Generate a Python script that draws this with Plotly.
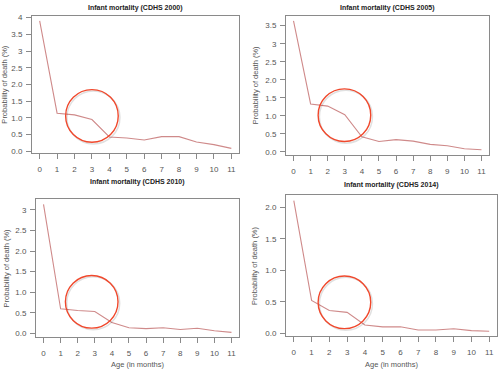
import plotly.graph_objects as go

W, H = 500, 373

months = list(range(12))

titles = ["Infant mortality (CDHS 2000)", "Infant mortality (CDHS 2005)",
          "Infant mortality (CDHS 2010)", "Infant mortality (CDHS 2014)"]

death_2000 = [3.90, 1.14, 1.09, 0.95, 0.43, 0.40, 0.34, 0.44, 0.44, 0.28, 0.20, 0.09]
death_2005 = [3.63, 1.33, 1.27, 1.03, 0.42, 0.29, 0.34, 0.30, 0.21, 0.17, 0.09, 0.06]
death_2010 = [3.13, 0.60, 0.56, 0.535, 0.27, 0.14, 0.12, 0.14, 0.10, 0.13, 0.07, 0.03]
death_2014 = [2.11, 0.52, 0.36, 0.33, 0.13, 0.10, 0.10, 0.05, 0.05, 0.07, 0.04, 0.03]

ytick_vals_2000 = [0, 0.5, 1, 1.5, 2, 2.5, 3, 3.5, 4]
ytick_text_2000 = ["0.0", "0.5", "1.0", "1.5", "2.0", "2.5", "3", "3.5", "4"]
ytick_vals_2005 = [0, 0.5, 1, 1.5, 2, 2.5, 3, 3.5]
ytick_text_2005 = ["0.0", "0.5", "1.0", "1.5", "2.0", "2.5", "3", "3.5"]
ytick_vals_2010 = [0, 0.5, 1, 1.5, 2, 2.5, 3]
ytick_text_2010 = ["0.0", "0.5", "1.0", "1.5", "2.0", "2.5", "3"]
ytick_vals_2014 = [0, 0.5, 1, 1.5, 2]
ytick_text_2014 = ["0.0", "0.5", "1.0", "1.5", "2.0"]

# highlight circle centres (data units)
circle_x = [3.0, 2.98, 2.82, 2.85]
circle_y = [1.06, 1.02, 0.77, 0.49]

series = [death_2000, death_2005, death_2010, death_2014]
yvals = [ytick_vals_2000, ytick_vals_2005, ytick_vals_2010, ytick_vals_2014]
ytexts = [ytick_text_2000, ytick_text_2005, ytick_text_2010, ytick_text_2014]

# panel boxes in pixels: left, right, top, bottom
boxes = [(32, 239, 14, 153.5), (286, 489, 14, 155), (36, 239, 200, 340), (286, 497, 196, 339)]
title_y_px = [6, 6, 182, 185]
ytitle_x_px = [5, 255, 6, 255]

LINE = "#cf8a8a"
AXC = "#8a8a8a"
TXT = "#555555"
FONT = "Liberation Sans, Arial, sans-serif"

fig = go.Figure()
layout = dict(width=W, height=H, margin=dict(l=0, r=0, t=0, b=0),
              paper_bgcolor="white", plot_bgcolor="white", showlegend=False,
              font=dict(family=FONT, size=8, color=TXT))
annotations = []
shapes = []

for i in range(4):
    n = "" if i == 0 else str(i + 1)
    xa, ya = "x" + n, "y" + n
    l, r, t, b = boxes[i]
    vals = series[i]
    ymin, ymax = min(vals), max(vals)
    rng = ymax - ymin
    fig.add_trace(go.Scatter(x=months, y=vals, mode="lines", xaxis=xa, yaxis=ya,
                             line=dict(color=LINE, width=1.1), hoverinfo="skip"))
    common = dict(showline=True, mirror=True, linecolor=AXC, linewidth=1,
                  ticks="outside", ticklen=5, tickcolor=AXC, tickwidth=1,
                  showgrid=False, zeroline=False,
                  tickfont=dict(family=FONT, size=8, color=TXT))
    layout["xaxis" + n] = dict(common, domain=[l / W, r / W], range=[-0.44, 11.44],
                               tickmode="array", tickvals=months,
                               ticktext=[str(m) for m in months],
                               ticklabelstandoff=3, anchor=ya)
    layout["yaxis" + n] = dict(common, domain=[1 - b / H, 1 - t / H],
                               range=[ymin - 0.04 * rng, ymax + 0.04 * rng],
                               tickmode="array", tickvals=yvals[i], ticktext=ytexts[i],
                               ticklabelstandoff=2, anchor=xa)
    annotations.append(dict(text="<b>" + titles[i] + "</b>", xref=xa + " domain", x=0.5,
                            yref="paper", y=1 - title_y_px[i] / H, yanchor="middle",
                            showarrow=False, font=dict(family=FONT, size=7, color="#222222")))
    annotations.append(dict(text="Probability of death (%)", textangle=-90,
                            xref="paper", x=ytitle_x_px[i] / W, xanchor="center",
                            yref=ya + " domain", y=0.5, yanchor="middle",
                            showarrow=False, font=dict(family=FONT, size=7.5, color=TXT)))
    if i >= 2:
        annotations.append(dict(text="Age (in months)", xref=xa + " domain", x=0.5,
                                yref="paper", y=1 - 367 / H, yanchor="middle",
                                showarrow=False, font=dict(family=FONT, size=7.5, color=TXT)))
    # faint shadow then red circle
    shapes.append(dict(type="circle", xref=xa, yref=ya, xsizemode="pixel", ysizemode="pixel",
                       xanchor=circle_x[i], yanchor=circle_y[i],
                       x0=-25, x1=28, y0=-28, y1=25,
                       line=dict(color="rgba(0,0,0,0.12)", width=1.5)))
    shapes.append(dict(type="circle", xref=xa, yref=ya, xsizemode="pixel", ysizemode="pixel",
                       xanchor=circle_x[i], yanchor=circle_y[i],
                       x0=-26.3, x1=26.3, y0=-26.3, y1=26.3,
                       line=dict(color="#f0482c", width=1.4)))

layout["annotations"] = annotations
layout["shapes"] = shapes
fig.update_layout(**layout)
fig.write_html("out.html", config={"displayModeBar": False},
               post_script="document.body.style.margin='0';")
